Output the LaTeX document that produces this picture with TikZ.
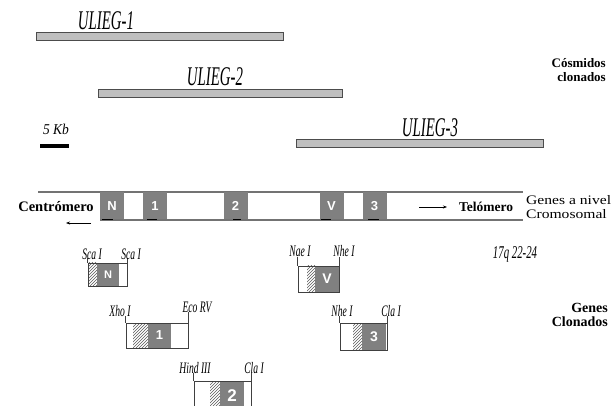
\documentclass[tikz,border=0pt]{standalone}
\usepackage{fontspec}
\setmainfont{Liberation Serif}
\setsansfont{Liberation Sans}
\usepackage{graphicx}
\usetikzlibrary{patterns,arrows.meta}
\newcommand{\narrow}[2][0.6]{\scalebox{#1}[1]{\itshape #2}}
\newcommand{\wide}[1]{\scalebox{1.2}[1]{#1}}

\begin{document}
\begin{tikzpicture}[x=1pt,y=-1pt,
  cosmidbar/.style={draw=black!70,fill=black!25,line width=0.8pt,inner sep=0pt,minimum height=8,anchor=west},
  ulieg/.style={inner sep=0pt,font=\fontsize{27}{27}\selectfont},
  chromline/.style={draw=black!55,line width=1.2pt},
  genebox/.style={fill=black!50,text=white,inner sep=0pt,minimum width=24,minimum height=27,
    font=\sffamily\bfseries\fontsize{13}{13}\selectfont},
  darkmark/.style={line width=1.5pt,black},
  clonegene/.style={fill=black!50,text=white,inner sep=0pt,font=\sffamily\bfseries\fontsize{14}{14}\selectfont},
  clonebox/.style={draw=black!75,line width=0.8pt,inner sep=0pt},
  hatch/.style={pattern=north east lines,pattern color=black!65},
  sitetick/.style={draw=black!75,line width=0.6pt},
  site/.style={inner sep=0pt,font=\fontsize{16}{16}\selectfont},
  boldlabel/.style={inner sep=0pt,font=\bfseries\fontsize{13}{14}\selectfont},
  pointer/.style={-{Stealth[length=4pt,width=3pt]},line width=0.6pt}]
\useasboundingbox (0,0) rectangle (616,406);

\node[cosmidbar,minimum width=247] (u1) at (36,36) {};
\node[cosmidbar,minimum width=244] (u2) at (98,93.5) {};
\node[cosmidbar,minimum width=247] (u3) at (296,143) {};
\node[ulieg] (lu1) at (106,21) {\narrow[0.55]{ULIEG-1}};
\node[ulieg] (lu2) at (215,77) {\narrow[0.55]{ULIEG-2}};
\node[ulieg] (lu3) at (430,128) {\narrow[0.55]{ULIEG-3}};
\node[boldlabel,anchor=east,align=right] (cosm) at (606,70) {Cósmidos\\clonados};

\node[inner sep=0pt,font=\fontsize{15}{15}\selectfont] (kb) at (56,129) {\narrow[0.9]{5 Kb}};
\draw[line width=4pt] (40,146) -- (69,146);

\draw[chromline] (38,192) -- (523,192);
\draw[chromline] (100,220) -- (523,220);
\node[genebox] (gN) at (112,206) {N};
\node[genebox] (g1) at (155,206) {1};
\node[genebox] (g2) at (235.5,206) {2};
\node[genebox] (gV) at (331.5,206) {V};
\node[genebox] (g3) at (374.5,206) {3};
\draw[darkmark] (102,219.5) -- (113,219.5);
\draw[darkmark] (147,219.5) -- (157,219.5);
\draw[darkmark] (233,219.5) -- (241,219.5);
\draw[darkmark] (321,219.5) -- (331,219.5);
\draw[darkmark] (368,219.5) -- (379,219.5);

\node[boldlabel,font=\bfseries\fontsize{14.5}{15}\selectfont] (cen) at (56,207) {Centrómero};
\coordinate (cenA) at (91,223);
\coordinate (cenB) at (66,223);
\draw[pointer] (cenA) -- (cenB);
\node[boldlabel,font=\bfseries\fontsize{13.5}{14}\selectfont] (tel) at (486,207) {Telómero};
\coordinate (telA) at (419,207);
\coordinate (telB) at (447,207);
\draw[pointer] (telA) -- (telB);
\node[inner sep=0pt,anchor=west,align=left,font=\fontsize{13}{14.5}\selectfont] (crom) at (526,207) {\wide{Genes a nivel}\\\wide{Cromosomal}};

\node[inner sep=0pt,font=\fontsize{18}{18}\selectfont] (loc) at (515,254) {\narrow{17q 22-24}};
\node[boldlabel,anchor=east,align=right,font=\bfseries\fontsize{14}{14}\selectfont] (genc) at (608,315) {Genes\\Clonados};

% N
\fill[hatch] (88,263) rectangle (97,286);
\node[clonegene,minimum width=22,minimum height=23,font=\sffamily\bfseries\fontsize{11}{11}\selectfont] (cN) at (108,274.5) {N};
\node[clonebox,minimum width=39,minimum height=23] (bN) at (107.5,274.5) {};
\draw[sitetick] (bN.north west) -- ++(0,-5);
\draw[sitetick] (bN.north east) -- ++(0,-5);
\node[site] (sN1) at (92,254) {\narrow{Sca I}};
\node[site] (sN2) at (131,254) {\narrow{Sca I}};

% 1
\fill[hatch] (133,323) rectangle (148,348);
\node[clonegene,minimum width=23,minimum height=25,font=\sffamily\bfseries\fontsize{13}{13}\selectfont] (c1) at (159.5,335.5) {1};
\node[clonebox,minimum width=62,minimum height=25] (b1) at (157,335.5) {};
\draw[sitetick] (b1.north west) -- ++(0,-7);
\draw[sitetick] (b1.north east) -- ++(0,-11);
\node[site] (s11) at (120,311) {\narrow{Xho I}};
\node[site] (s12) at (197,307) {\narrow{Eco RV}};

% 2
\fill[hatch] (210,381) rectangle (220,410);
\node[clonegene,minimum width=24,minimum height=29,font=\sffamily\bfseries\fontsize{17}{17}\selectfont] (c2) at (232,395.5) {2};
\node[clonebox,minimum width=57,minimum height=29] (b2) at (222.5,395.5) {};
\draw[sitetick] (b2.north west) -- ++(0,-8);
\draw[sitetick] (b2.north east) -- ++(0,-8);
\node[site] (s21) at (195,368) {\narrow{Hind III}};
\node[site] (s22) at (254,368) {\narrow{Cla I}};

% V
\fill[hatch] (307,266) rectangle (315,292);
\node[clonegene,minimum width=24,minimum height=26] (cV) at (327,279) {V};
\node[clonebox,minimum width=41,minimum height=26] (bV) at (318.5,279) {};
\draw[sitetick] (bV.north west) -- ++(0,-9);
\draw[sitetick] (bV.north east) -- ++(0,-9);
\node[site] (sV1) at (300,251) {\narrow{Nae I}};
\node[site] (sV2) at (344,251) {\narrow{Nhe I}};

% 3
\fill[hatch] (353,323) rectangle (362,350);
\node[clonegene,minimum width=24,minimum height=27] (c3) at (374,336.5) {3};
\node[clonebox,minimum width=47,minimum height=27] (b3) at (363.5,336.5) {};
\draw[sitetick] (b3.north west) -- ++(0,-7);
\draw[sitetick] (b3.north east) -- ++(0,-7);
\node[site] (s31) at (342,311) {\narrow{Nhe I}};
\node[site] (s32) at (391,311) {\narrow{Cla I}};
\end{tikzpicture}
\end{document}
